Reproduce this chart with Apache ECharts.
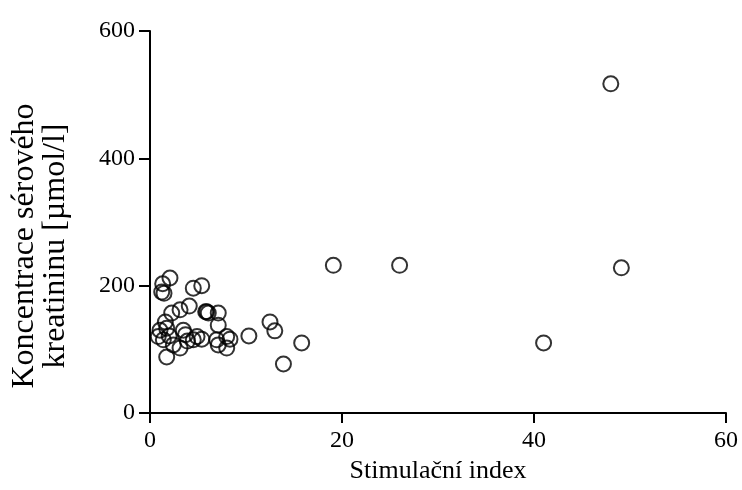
<!DOCTYPE html>
<html>
<head>
<meta charset="utf-8">
<script src="https://cdn.jsdelivr.net/npm/echarts@6/dist/echarts.min.js"></script>
<style>html,body{margin:0;padding:0;background:#fff}#c{width:742px;height:490px}</style>
</head>
<body>
<div id="c"></div>
<script>
const stimIndex = [48.0, 49.1, 41.0, 19.1, 26.0, 15.8, 13.9, 12.5, 13.0, 10.3,
  2.08, 1.32, 1.22, 1.46, 4.51, 5.39, 2.26, 3.13, 4.09, 5.91, 6.07, 7.11, 7.11, 1.04, 1.74, 0.86, 1.39, 3.47,
  2.43, 3.13, 4.51, 5.39, 6.95, 7.11, 7.99, 8.33, 7.99, 1.74, 2.0, 3.7, 4.9, 5.8, 1.6, 3.9];
const creatinine = [517, 228, 110, 232, 232, 110, 77, 143, 129, 121,
  212, 203, 190, 188, 196, 200, 157, 162, 168, 159, 157, 157, 138, 130, 133, 120, 115, 130,
  107, 102, 115, 116, 115, 107, 120, 116, 102, 88, 121, 123, 120, 159, 143, 113];
const xTicks = [0, 20, 40, 60];
const yTicks = [0, 200, 400, 600];
const xTitle = 'Stimulační index';
const yTitle = 'Koncentrace sérového\nkreatininu [µmol/l]';

const points = stimIndex.map((x, i) => [x, creatinine[i]]);
const font = 'Liberation Serif';
const chart = echarts.init(document.getElementById('c'));
chart.setOption({
  animation: false,
  grid: {left: 150, right: 16, top: 31, bottom: 77},
  xAxis: {
    type: 'value', min: xTicks[0], max: xTicks[xTicks.length - 1], interval: 20,
    name: xTitle, nameLocation: 'middle', nameGap: 39,
    nameTextStyle: {fontFamily: font, fontSize: 26, color: '#000'},
    axisLine: {show: true, lineStyle: {color: '#000', width: 2}},
    axisTick: {show: true, length: 10, lineStyle: {color: '#000', width: 2}},
    axisLabel: {fontFamily: font, fontSize: 24, color: '#000', margin: 16},
    splitLine: {show: false}
  },
  yAxis: {
    type: 'value', min: yTicks[0], max: yTicks[yTicks.length - 1], interval: 200,
    axisLine: {show: true, lineStyle: {color: '#000', width: 2}},
    axisTick: {show: true, length: 11, lineStyle: {color: '#000', width: 2}},
    axisLabel: {fontFamily: font, fontSize: 24, color: '#000', margin: 15},
    splitLine: {show: false}
  },
  graphic: [{
    type: 'text', x: 40, y: 246, rotation: Math.PI / 2,
    style: {text: yTitle, font: '32px "Liberation Serif"', fill: '#000',
      align: 'center', verticalAlign: 'middle', lineHeight: 31}
  }],
  series: [{
    type: 'scatter', data: points, symbol: 'circle', symbolSize: 15,
    itemStyle: {color: 'rgba(0,0,0,0)', borderColor: '#000', borderWidth: 2}
  }]
});
</script>
</body>
</html>
